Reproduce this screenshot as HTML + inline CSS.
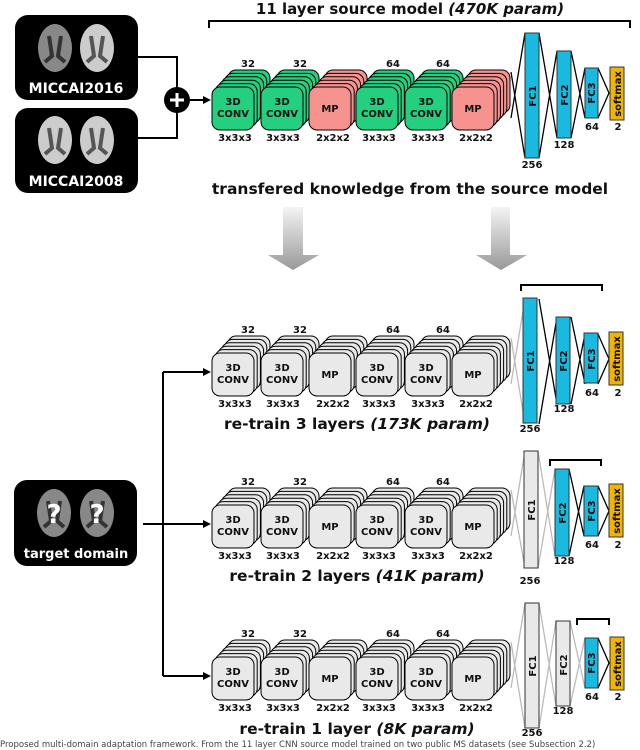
<!DOCTYPE html>
<html><head><meta charset="utf-8"><style>
html,body{margin:0;padding:0;background:#fff;}
svg{display:block;}
text{font-family:"DejaVu Sans","Liberation Sans",sans-serif;font-weight:bold;fill:#111;}
</style></head><body>
<svg width="640" height="750" viewBox="0 0 640 750" xmlns="http://www.w3.org/2000/svg">
<defs>
<linearGradient id="ga" x1="0" y1="0" x2="0" y2="1"><stop offset="0" stop-color="#f4f4f4"/><stop offset="1" stop-color="#999"/></linearGradient>
<g id="sg"><rect x="16" y="-17" width="42" height="43" rx="8" fill="#25cf80" stroke="#000"/><rect x="12.8" y="-13.6" width="42" height="43" rx="8" fill="#25cf80" stroke="#000"/><rect x="9.6" y="-10.2" width="42" height="43" rx="8" fill="#25cf80" stroke="#000"/><rect x="6.4" y="-6.8" width="42" height="43" rx="8" fill="#25cf80" stroke="#000"/><rect x="3.2" y="-3.4" width="42" height="43" rx="8" fill="#25cf80" stroke="#000"/><rect x="0" y="0" width="42" height="43" rx="8" fill="#25cf80" stroke="#000"/></g>
<g id="sr"><rect x="16" y="-17" width="42" height="43" rx="8" fill="#f7938f" stroke="#000"/><rect x="12.8" y="-13.6" width="42" height="43" rx="8" fill="#f7938f" stroke="#000"/><rect x="9.6" y="-10.2" width="42" height="43" rx="8" fill="#f7938f" stroke="#000"/><rect x="6.4" y="-6.8" width="42" height="43" rx="8" fill="#f7938f" stroke="#000"/><rect x="3.2" y="-3.4" width="42" height="43" rx="8" fill="#f7938f" stroke="#000"/><rect x="0" y="0" width="42" height="43" rx="8" fill="#f7938f" stroke="#000"/></g>
<g id="sy"><rect x="16" y="-17" width="42" height="43" rx="8" fill="#e9e9e9" stroke="#000"/><rect x="12.8" y="-13.6" width="42" height="43" rx="8" fill="#e9e9e9" stroke="#000"/><rect x="9.6" y="-10.2" width="42" height="43" rx="8" fill="#e9e9e9" stroke="#000"/><rect x="6.4" y="-6.8" width="42" height="43" rx="8" fill="#e9e9e9" stroke="#000"/><rect x="3.2" y="-3.4" width="42" height="43" rx="8" fill="#e9e9e9" stroke="#000"/><rect x="0" y="0" width="42" height="43" rx="8" fill="#e9e9e9" stroke="#000"/></g>
<g id="brain"><ellipse cx="0" cy="0" rx="17" ry="24" fill="#888"/><path d="M-6,-12 L-3,8 L-10,14 M6,-12 L3,8 L10,14" stroke="#333" stroke-width="4" fill="none"/></g>
<g id="brainL"><ellipse cx="0" cy="0" rx="17" ry="24" fill="#ccc"/><path d="M-6,-12 L-3,8 L-10,14 M6,-12 L3,8 L10,14" stroke="#555" stroke-width="4" fill="none"/></g>
</defs>

<text x="410" y="14" font-size="15" text-anchor="middle">11 layer source model <tspan font-style="italic">(470K param)</tspan></text>
<path d="M209,28 V21 H630 V28" stroke="#000" stroke-width="2" fill="none"/>

<rect x="15" y="15" width="123" height="85" rx="13" fill="#000"/>
<use href="#brain" x="55" y="48"/><use href="#brainL" x="97" y="48"/>
<text x="76" y="93" font-size="14" text-anchor="middle" style="fill:#fff">MICCAI2016</text>
<rect x="15" y="108" width="123" height="85" rx="13" fill="#000"/>
<use href="#brainL" x="55" y="140"/><use href="#brainL" x="97" y="140"/>
<text x="76" y="186" font-size="14" text-anchor="middle" style="fill:#fff">MICCAI2008</text>
<path d="M138,57 H177 V88 M138,138 H177 V112" stroke="#000" stroke-width="2" fill="none"/>
<circle cx="177" cy="100" r="13" fill="#000"/>
<path d="M170,100 H184 M177,93 V107" stroke="#fff" stroke-width="3"/>
<path d="M190,100 H204" stroke="#000" stroke-width="2"/><path d="M211,100 L203,96 L203,104Z" fill="#000"/>

<g>
<use href="#sg" x="212" y="87"/><use href="#sg" x="261" y="87"/><use href="#sr" x="309" y="87"/><use href="#sg" x="356" y="87"/><use href="#sg" x="405" y="87"/><use href="#sr" x="452" y="87"/>
</g>
<g font-size="10" text-anchor="middle">
<text x="233" y="105">3D</text><text x="233" y="117">CONV</text>
<text x="282" y="105">3D</text><text x="282" y="117">CONV</text>
<text x="330" y="112">MP</text>
<text x="377" y="105">3D</text><text x="377" y="117">CONV</text>
<text x="426" y="105">3D</text><text x="426" y="117">CONV</text>
<text x="473" y="112">MP</text>
<text x="248" y="67">32</text><text x="300" y="67">32</text><text x="393" y="67">64</text><text x="443" y="67">64</text>
<text x="235" y="141">3x3x3</text><text x="283" y="141">3x3x3</text><text x="333" y="141">2x2x2</text><text x="379" y="141">3x3x3</text><text x="428" y="141">3x3x3</text><text x="476" y="141">2x2x2</text>
<text x="532" y="168">256</text><text x="564" y="148">128</text><text x="592" y="130">64</text><text x="618" y="130">2</text>
</g>
<path d="M511,72 L525,158 M511,118 L525,33 M539,33 L557,138 M539,158 L557,51 M571,51 L585,118 M571,138 L585,68 M598,68 L609,93 L598,118" stroke="#000" stroke-width="1.3" fill="none"/>
<rect x="525" y="33" width="14" height="125" fill="#1ab9e0" stroke="#333"/>
<rect x="557" y="51" width="14" height="87" fill="#1ab9e0" stroke="#333"/>
<rect x="585" y="68" width="13" height="50" fill="#1ab9e0" stroke="#333"/>
<rect x="610" y="67" width="14" height="53" fill="#f1b400" stroke="#333"/>
<g font-size="10"><text transform="translate(536,96) rotate(-90)" text-anchor="middle">FC1</text><text transform="translate(568,95) rotate(-90)" text-anchor="middle">FC2</text><text transform="translate(595,93) rotate(-90)" text-anchor="middle">FC3</text><text transform="translate(621,94) rotate(-90)" text-anchor="middle">softmax</text></g>

<text x="410" y="194" font-size="15.5" text-anchor="middle">transfered knowledge from the source model</text>

<path d="M283,207 H303 V255 H319 L293,270 L268,255 H283Z" fill="url(#ga)"/>
<path d="M491,207 H510 V255 H527 L501,270 L476,255 H491Z" fill="url(#ga)"/>

<rect x="14" y="480" width="123" height="86" rx="13" fill="#000"/>
<use href="#brain" x="54" y="513"/><use href="#brain" x="97" y="513"/>
<text x="54" y="523" font-size="26" text-anchor="middle" style="fill:#fff">?</text>
<text x="97" y="523" font-size="26" text-anchor="middle" style="fill:#fff">?</text>
<text x="76" y="558" font-size="13" text-anchor="middle" style="fill:#fff">target domain</text>
<path d="M143,524 H204 M163,372 V676 M163,372 H204 M163,676 H204" stroke="#000" stroke-width="2" fill="none"/>
<path d="M211,372 L203,368 L203,376Z M211,524 L203,520 L203,528Z M211,676 L203,672 L203,680Z" fill="#000"/>

<g transform="translate(0,266)">
<use href="#sy" x="212" y="87"/><use href="#sy" x="261" y="87"/><use href="#sy" x="309" y="87"/><use href="#sy" x="356" y="87"/><use href="#sy" x="405" y="87"/><use href="#sy" x="452" y="87"/>
<g font-size="10" text-anchor="middle">
<text x="233" y="105">3D</text><text x="233" y="117">CONV</text><text x="282" y="105">3D</text><text x="282" y="117">CONV</text><text x="330" y="112">MP</text><text x="377" y="105">3D</text><text x="377" y="117">CONV</text><text x="426" y="105">3D</text><text x="426" y="117">CONV</text><text x="473" y="112">MP</text>
<text x="248" y="67">32</text><text x="300" y="67">32</text><text x="393" y="67">64</text><text x="443" y="67">64</text>
<text x="235" y="141">3x3x3</text><text x="283" y="141">3x3x3</text><text x="333" y="141">2x2x2</text><text x="379" y="141">3x3x3</text><text x="428" y="141">3x3x3</text><text x="476" y="141">2x2x2</text>
<text x="530" y="166">256</text><text x="564" y="146">128</text><text x="592" y="130">64</text><text x="618" y="130">2</text>
</g>
<path d="M511,72 L525,158 M511,118 L525,33" stroke="#bbb" stroke-width="1.3" fill="none"/>
<path d="M539,33 L557,138 M539,158 L557,51 M571,51 L585,118 M571,138 L585,68 M598,68 L609,93 L598,118" stroke="#000" stroke-width="1.3" fill="none"/>
<rect x="523" y="32" width="14" height="125" fill="#1ab9e0" stroke="#333"/>
<rect x="556" y="51" width="14" height="87" fill="#1ab9e0" stroke="#333"/>
<rect x="584" y="67" width="14" height="50" fill="#1ab9e0" stroke="#333"/>
<rect x="609" y="66" width="14" height="53" fill="#f1b400" stroke="#333"/>
<path d="M521,25 V19 H602 V25" stroke="#000" stroke-width="2" fill="none"/>
<g font-size="10"><text transform="translate(534,95) rotate(-90)" text-anchor="middle">FC1</text><text transform="translate(567,95) rotate(-90)" text-anchor="middle">FC2</text><text transform="translate(595,93) rotate(-90)" text-anchor="middle">FC3</text><text transform="translate(620,93) rotate(-90)" text-anchor="middle">softmax</text></g>
<text x="357" y="163" font-size="15.5" text-anchor="middle">re-train 3 layers <tspan font-style="italic">(173K param)</tspan></text>
</g>

<g transform="translate(0,418)">
<use href="#sy" x="212" y="87"/><use href="#sy" x="261" y="87"/><use href="#sy" x="309" y="87"/><use href="#sy" x="356" y="87"/><use href="#sy" x="405" y="87"/><use href="#sy" x="452" y="87"/>
<g font-size="10" text-anchor="middle">
<text x="233" y="105">3D</text><text x="233" y="117">CONV</text><text x="282" y="105">3D</text><text x="282" y="117">CONV</text><text x="330" y="112">MP</text><text x="377" y="105">3D</text><text x="377" y="117">CONV</text><text x="426" y="105">3D</text><text x="426" y="117">CONV</text><text x="473" y="112">MP</text>
<text x="248" y="67">32</text><text x="300" y="67">32</text><text x="393" y="67">64</text><text x="443" y="67">64</text>
<text x="235" y="141">3x3x3</text><text x="283" y="141">3x3x3</text><text x="333" y="141">2x2x2</text><text x="379" y="141">3x3x3</text><text x="428" y="141">3x3x3</text><text x="476" y="141">2x2x2</text>
<text x="530" y="166">256</text><text x="564" y="146">128</text><text x="592" y="130">64</text><text x="618" y="130">2</text>
</g>
<path d="M511,72 L525,150 M511,118 L525,33 M538,33 L555,138 M538,150 L555,51" stroke="#bbb" stroke-width="1.3" fill="none"/>
<path d="M569,51 L584,118 M569,138 L584,68 M598,68 L609,93 L598,118" stroke="#000" stroke-width="1.3" fill="none"/>
<rect x="524" y="33" width="14" height="117" fill="#e9e9e9" stroke="#333"/>
<rect x="555" y="51" width="14" height="87" fill="#1ab9e0" stroke="#333"/>
<rect x="584" y="68" width="14" height="50" fill="#1ab9e0" stroke="#333"/>
<rect x="609" y="66" width="14" height="53" fill="#f1b400" stroke="#333"/>
<path d="M550,48 V42 H601 V48" stroke="#000" stroke-width="2" fill="none"/>
<g font-size="10"><text transform="translate(535,92) rotate(-90)" text-anchor="middle">FC1</text><text transform="translate(566,95) rotate(-90)" text-anchor="middle">FC2</text><text transform="translate(595,93) rotate(-90)" text-anchor="middle">FC3</text><text transform="translate(620,93) rotate(-90)" text-anchor="middle">softmax</text></g>
<text x="357" y="163" font-size="15.5" text-anchor="middle">re-train 2 layers <tspan font-style="italic">(41K param)</tspan></text>
</g>

<g transform="translate(0,570)">
<use href="#sy" x="212" y="87"/><use href="#sy" x="261" y="87"/><use href="#sy" x="309" y="87"/><use href="#sy" x="356" y="87"/><use href="#sy" x="405" y="87"/><use href="#sy" x="452" y="87"/>
<g font-size="10" text-anchor="middle">
<text x="233" y="105">3D</text><text x="233" y="117">CONV</text><text x="282" y="105">3D</text><text x="282" y="117">CONV</text><text x="330" y="112">MP</text><text x="377" y="105">3D</text><text x="377" y="117">CONV</text><text x="426" y="105">3D</text><text x="426" y="117">CONV</text><text x="473" y="112">MP</text>
<text x="248" y="67">32</text><text x="300" y="67">32</text><text x="393" y="67">64</text><text x="443" y="67">64</text>
<text x="235" y="141">3x3x3</text><text x="283" y="141">3x3x3</text><text x="333" y="141">2x2x2</text><text x="379" y="141">3x3x3</text><text x="428" y="141">3x3x3</text><text x="476" y="141">2x2x2</text>
<text x="532" y="166">256</text><text x="563" y="144">128</text><text x="592" y="130">64</text><text x="618" y="130">2</text>
</g>
<path d="M511,72 L525,158 M511,118 L525,33 M539,33 L556,136 M539,158 L556,51 M570,51 L585,118 M570,136 L585,68" stroke="#bbb" stroke-width="1.3" fill="none"/>
<path d="M598,68 L609,93 L598,118" stroke="#000" stroke-width="1.3" fill="none"/>
<rect x="525" y="33" width="14" height="125" fill="#e9e9e9" stroke="#333"/>
<rect x="556" y="51" width="14" height="85" fill="#e9e9e9" stroke="#333"/>
<rect x="585" y="68" width="13" height="50" fill="#1ab9e0" stroke="#333"/>
<rect x="610" y="67" width="14" height="53" fill="#f1b400" stroke="#333"/>
<path d="M577,55 V49 H609 V55" stroke="#000" stroke-width="2" fill="none"/>
<g font-size="10"><text transform="translate(536,96) rotate(-90)" text-anchor="middle">FC1</text><text transform="translate(567,95) rotate(-90)" text-anchor="middle">FC2</text><text transform="translate(595,93) rotate(-90)" text-anchor="middle">FC3</text><text transform="translate(621,94) rotate(-90)" text-anchor="middle">softmax</text></g>
<text x="357" y="164" font-size="15.5" text-anchor="middle">re-train 1 layer <tspan font-style="italic">(8K param)</tspan></text>
</g>

<text x="0" y="747" font-size="8.5" style="font-weight:normal;fill:#444">Proposed multi-domain adaptation framework. From the 11 layer CNN source model trained on two public MS datasets (see Subsection 2.2)</text>
</svg>
</body></html>
